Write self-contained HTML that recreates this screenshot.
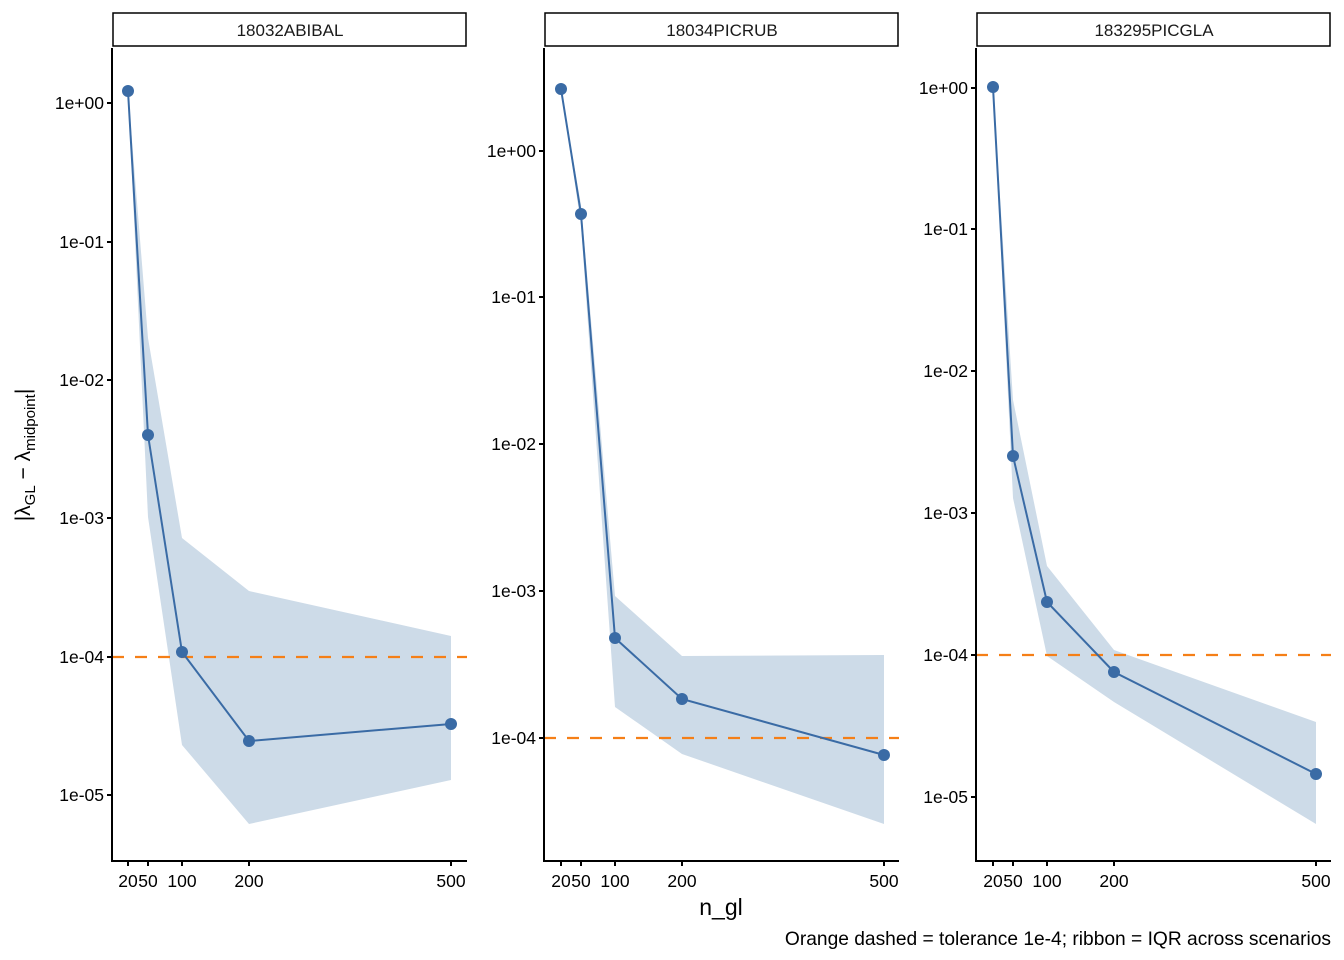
<!DOCTYPE html>
<html><head><meta charset="utf-8"><style>body{margin:0;background:#fff}svg{display:block}</style></head><body>
<svg width="1344" height="960" xmlns="http://www.w3.org/2000/svg" font-family="Liberation Sans, Arial, sans-serif">
<rect width="1344" height="960" fill="#fff"/>
<g fill="#cddbe8">
<polygon points="128,91 148,338 182,538 249,591 451,636 451,780 249,824 182,745 148,517 128,91"/>
<polygon points="561,89 581,205 615,596 682,656 884,655 884,824 682,754 615,707 581,225 561,89"/>
<polygon points="993,87 1013,400 1047,566 1114,650 1316,722 1316,824 1114,702 1047,656 1013,498 993,87"/>
</g>
<g stroke="#f57f17" stroke-width="2.2" stroke-dasharray="12,11" fill="none">
<line x1="112" y1="657" x2="467" y2="657"/>
<line x1="544" y1="738" x2="899" y2="738"/>
<line x1="976" y1="655" x2="1331" y2="655"/>
</g>
<g stroke="#3a6ba5" stroke-width="2" fill="none">
<polyline points="128,91 148,435 182,652 249,741 451,724"/>
<polyline points="561,89 581,214 615,638 682,699 884,755"/>
<polyline points="993,87 1013,456 1047,602 1114,672 1316,774"/>
</g>
<g fill="#3a6ba5">
<circle cx="128" cy="91" r="6"/><circle cx="148" cy="435" r="6"/><circle cx="182" cy="652" r="6"/><circle cx="249" cy="741" r="6"/><circle cx="451" cy="724" r="6"/>
<circle cx="561" cy="89" r="6"/><circle cx="581" cy="214" r="6"/><circle cx="615" cy="638" r="6"/><circle cx="682" cy="699" r="6"/><circle cx="884" cy="755" r="6"/>
<circle cx="993" cy="87" r="6"/><circle cx="1013" cy="456" r="6"/><circle cx="1047" cy="602" r="6"/><circle cx="1114" cy="672" r="6"/><circle cx="1316" cy="774" r="6"/>
</g>
<g stroke="#000" stroke-width="2" fill="none">
<polyline points="112,48 112,861 467,861"/>
<polyline points="544,48 544,861 899,861"/>
<polyline points="976,48 976,861 1331,861"/>
</g>
<g stroke="#000" stroke-width="1.5" fill="#fff">
<rect x="113" y="13" width="353" height="33"/>
<rect x="545" y="13" width="353" height="33"/>
<rect x="977" y="13" width="353" height="33"/>
</g>
<g font-size="17" text-anchor="middle" fill="#1a1a1a">
<text x="290" y="36">18032ABIBAL</text>
<text x="722" y="36">18034PICRUB</text>
<text x="1154" y="36">183295PICGLA</text>
</g>
<g stroke="#000" stroke-width="2">
<line x1="107" y1="103" x2="112" y2="103"/><line x1="107" y1="242" x2="112" y2="242"/><line x1="107" y1="380" x2="112" y2="380"/><line x1="107" y1="518" x2="112" y2="518"/><line x1="107" y1="657" x2="112" y2="657"/><line x1="107" y1="795" x2="112" y2="795"/>
<line x1="539" y1="151" x2="544" y2="151"/><line x1="539" y1="297" x2="544" y2="297"/><line x1="539" y1="444" x2="544" y2="444"/><line x1="539" y1="591" x2="544" y2="591"/><line x1="539" y1="738" x2="544" y2="738"/>
<line x1="971" y1="88" x2="976" y2="88"/><line x1="971" y1="229" x2="976" y2="229"/><line x1="971" y1="371" x2="976" y2="371"/><line x1="971" y1="513" x2="976" y2="513"/><line x1="971" y1="655" x2="976" y2="655"/><line x1="971" y1="797" x2="976" y2="797"/>
<line x1="128" y1="861" x2="128" y2="866"/><line x1="148" y1="861" x2="148" y2="866"/><line x1="182" y1="861" x2="182" y2="866"/><line x1="249" y1="861" x2="249" y2="866"/><line x1="451" y1="861" x2="451" y2="866"/>
<line x1="561" y1="861" x2="561" y2="866"/><line x1="581" y1="861" x2="581" y2="866"/><line x1="615" y1="861" x2="615" y2="866"/><line x1="682" y1="861" x2="682" y2="866"/><line x1="884" y1="861" x2="884" y2="866"/>
<line x1="993" y1="861" x2="993" y2="866"/><line x1="1013" y1="861" x2="1013" y2="866"/><line x1="1047" y1="861" x2="1047" y2="866"/><line x1="1114" y1="861" x2="1114" y2="866"/><line x1="1316" y1="861" x2="1316" y2="866"/>
</g>
<g font-size="17.5" text-anchor="end" fill="#000">
<text x="104" y="109">1e+00</text><text x="104" y="248">1e-01</text><text x="104" y="386">1e-02</text><text x="104" y="524">1e-03</text><text x="104" y="663">1e-04</text><text x="104" y="801">1e-05</text>
<text x="536" y="157">1e+00</text><text x="536" y="303">1e-01</text><text x="536" y="450">1e-02</text><text x="536" y="597">1e-03</text><text x="536" y="744">1e-04</text>
<text x="968" y="94">1e+00</text><text x="968" y="235">1e-01</text><text x="968" y="377">1e-02</text><text x="968" y="519">1e-03</text><text x="968" y="661">1e-04</text><text x="968" y="803">1e-05</text>
</g>
<g font-size="17.5" text-anchor="middle" fill="#000">
<text x="128" y="887">20</text><text x="148" y="887">50</text><text x="182" y="887">100</text><text x="249" y="887">200</text><text x="451" y="887">500</text>
<text x="561" y="887">20</text><text x="581" y="887">50</text><text x="615" y="887">100</text><text x="682" y="887">200</text><text x="884" y="887">500</text>
<text x="993" y="887">20</text><text x="1013" y="887">50</text><text x="1047" y="887">100</text><text x="1114" y="887">200</text><text x="1316" y="887">500</text>
</g>
<text x="721" y="915" font-size="23" text-anchor="middle">n_gl</text>
<text transform="translate(30,455) rotate(-90)" font-size="21" text-anchor="middle">|λ<tspan font-size="15" dy="5">GL</tspan><tspan dy="-5"> − λ</tspan><tspan font-size="15" dy="5">midpoint</tspan><tspan dy="-5">|</tspan></text>
<text x="1331" y="945" font-size="19.2" text-anchor="end">Orange dashed = tolerance 1e-4; ribbon = IQR across scenarios</text>
</svg>
</body></html>
